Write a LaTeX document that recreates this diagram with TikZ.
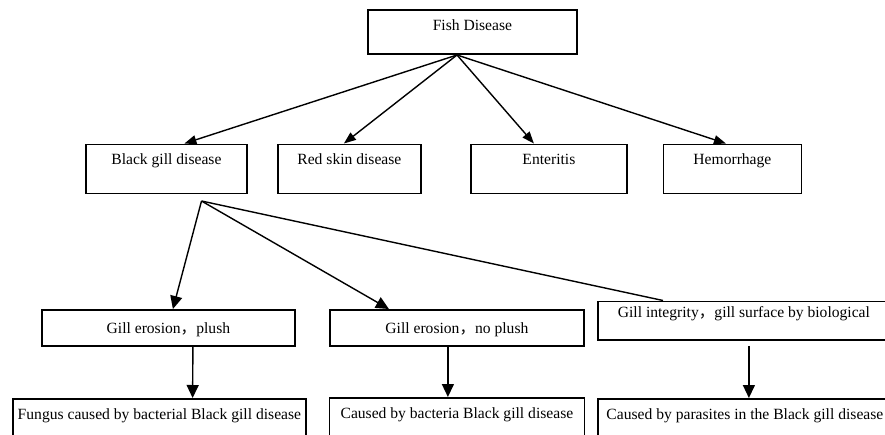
\documentclass[tikz,border=0pt]{standalone}
\usepackage{fontspec}
\setmainfont{Liberation Serif}
\newfontfamily\cjkfont{Noto Sans CJK SC}
\usetikzlibrary{arrows.meta,calc}
\newcommand{\fwcomma}{{\cjkfont ，}}
\begin{document}
\begin{tikzpicture}[x=1pt,y=-1pt,
  box/.style={draw, line width=1.8pt, inner sep=0pt, anchor=north west},
  txt/.style={font=\fontsize{15.6}{18}\selectfont, anchor=base, inner sep=0pt},
  con/.style={line width=1.4pt},
  arrs/.style={con, -{Triangle[length=12pt,width=9pt]}},
  arrb/.style={con, -{Triangle[length=13pt,width=12pt]}}]
\useasboundingbox (0,0) rectangle (885,434);
\clip (0,0) rectangle (885,434);
% level 1
\node[box, minimum width=209pt, minimum height=44pt] (fd) at (367,9) {};
\node[txt] (fdt) at ($(fd.north)+(0,21)$) {Fish Disease};
% level 2
\node[box, minimum width=161pt, minimum height=49pt] (bg) at (85,143.5) {};
\node[txt] (bgt) at ($(bg.north)+(0,21)$) {Black gill disease};
\node[box, minimum width=143pt, minimum height=49pt] (rs) at (277,143.5) {};
\node[txt] (rst) at ($(rs.north)+(0,21)$) {Red skin disease};
\node[box, minimum width=156pt, minimum height=49pt] (en) at (470,143.5) {};
\node[txt] (ent) at ($(en.north)+(0,21)$) {Enteritis};
\node[box, minimum width=138pt, minimum height=49pt] (he) at (662.5,143.5) {};
\node[txt] (het) at ($(he.north)+(0,21)$) {Hemorrhage};
% level 3
\node[box, minimum width=253pt, minimum height=36pt] (ge1) at (41,309) {};
\node[txt] (ge1t) at ($(ge1.north)+(0,24)$) {Gill erosion\fwcomma plush};
\node[box, minimum width=254pt, minimum height=36pt] (ge2) at (329,309) {};
\node[txt] (ge2t) at ($(ge2.north)+(0,24)$) {Gill erosion\fwcomma no plush};
\node[box, minimum width=292pt, minimum height=38.5pt] (gi) at (597,300.5) {};
\node[txt] (git) at ($(gi.north)+(0,17)$) {Gill integrity\fwcomma gill surface by biological};
% level 4
\node[box, minimum width=293pt, minimum height=60pt] (c1) at (12,398) {};
\node[txt] (c1t) at ($(c1.north)+(0,21)$) {Fungus caused by bacterial Black gill disease};
\node[box, minimum width=255pt, minimum height=60pt] (c2) at (328.5,397) {};
\node[txt] (c2t) at ($(c2.north)+(0,21)$) {Caused by bacteria Black gill disease};
\node[box, minimum width=294pt, minimum height=60pt] (c3) at (597,398) {};
\node[txt] (c3t) at ($(c3.north)+(0,21)$) {Caused by parasites in the Black gill disease};
% connectors from Fish Disease
\coordinate (fds) at (457,55);
\draw[arrs] (fds) -- ($(bg.north)+(18,0)$);
\draw[arrs] (fds) -- ($(rs.north)+(-5.5,0)$);
\draw[arrs] (fds) -- ($(en.north)+(-15,0)$);
\draw[arrs] (fds) -- ($(he.north)+(-6.5,0)$);
% connectors from Black gill disease
\coordinate (bgs) at (201.5,201);
\draw[arrb] (bgs) -- ($(ge1.north)+(4.5,0)$);
\draw[arrb] (bgs) -- ($(ge2.north)+(-68,0)$);
\draw[con] (bgs) -- ($(gi.north west)+(66,0)$);
% vertical arrows
\draw[arrb] ($(ge1.south)+(24.5,0)$) -- ($(c1.north)+(33.2,0)$);
\draw[arrb] ($(ge2.south)+(-9,0)$) -- ($(c2.north)+(-9,0)$);
\draw[arrb] ($(gi.south)+(5,5)$) -- ($(c3.north)+(4,0)$);
\end{tikzpicture}
\end{document}
